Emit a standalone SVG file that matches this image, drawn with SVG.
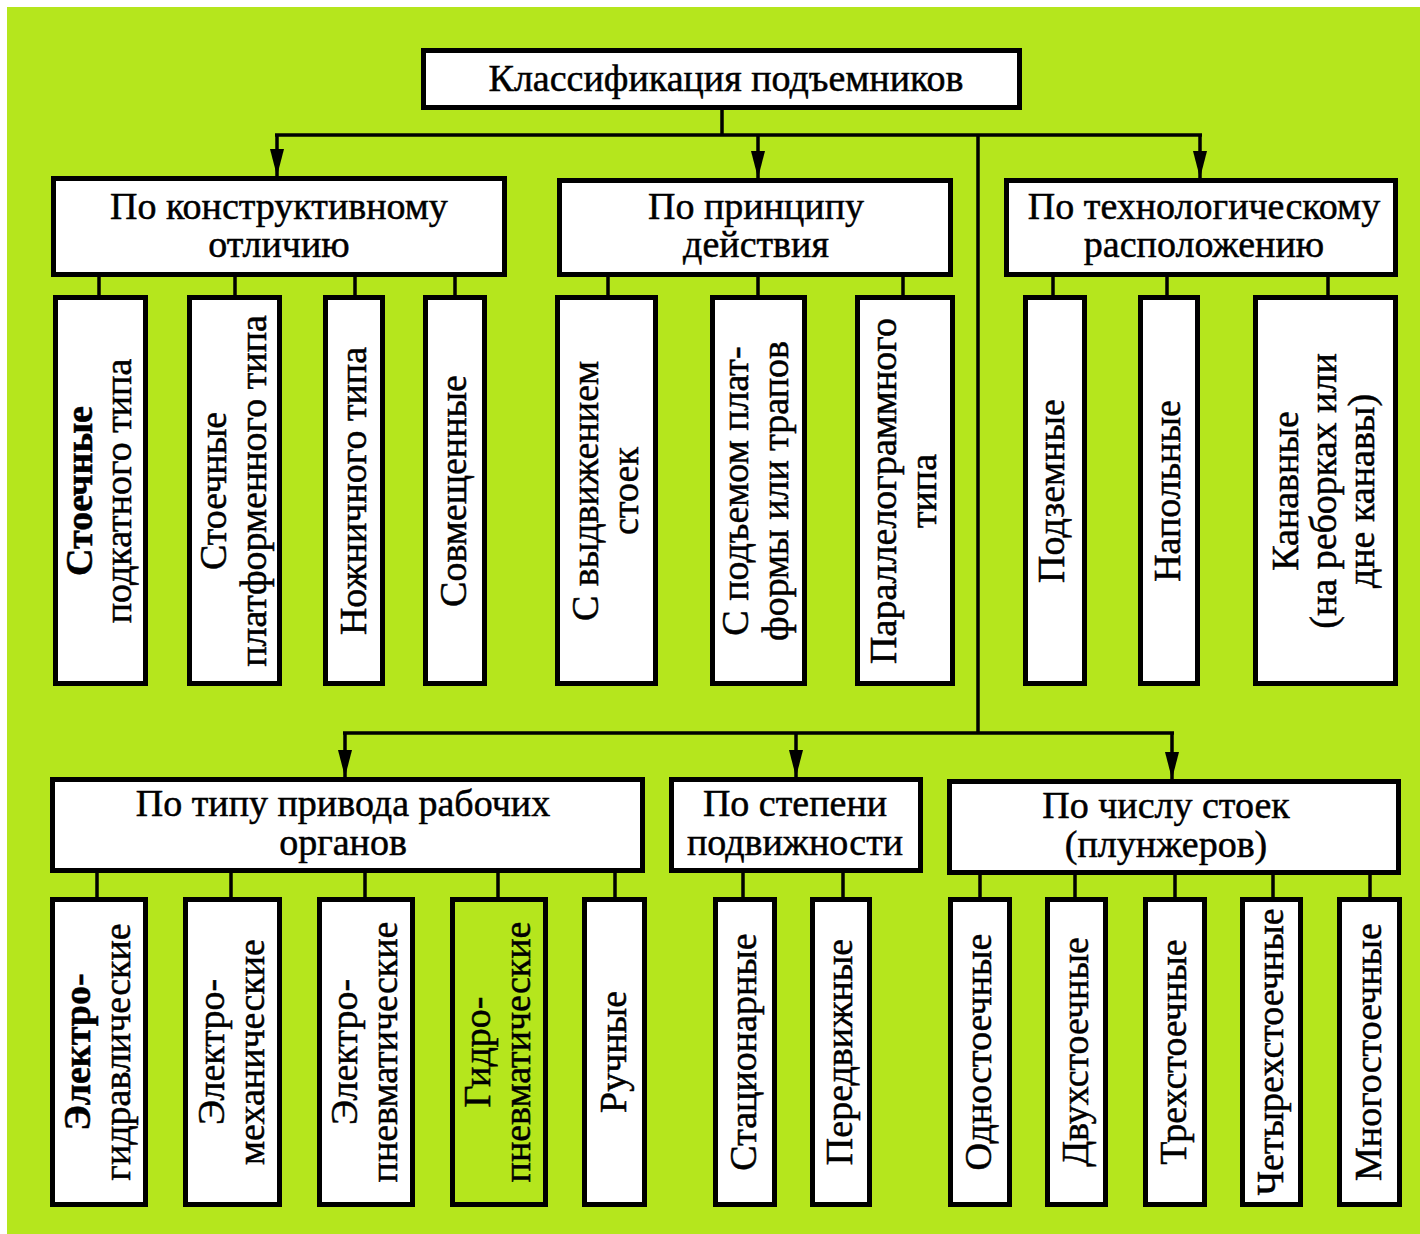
<svg xmlns="http://www.w3.org/2000/svg" width="1420" height="1234" viewBox="0 0 1420 1234">
<style>
.box{fill:#ffffff;stroke:#000;stroke-width:5}
.boxg{fill:none;stroke:#000;stroke-width:5}
.ln{stroke:#000;stroke-width:3.5;fill:none}
.arr{stroke:#000;stroke-width:3.5;fill:none;marker-end:url(#ah)}
text{font-family:"Liberation Serif","Times New Roman",serif;font-size:38px;text-anchor:middle;fill:#000;stroke:#000;stroke-width:0.5}
.b{font-weight:bold}
</style>
<defs>
<marker id="ah" markerUnits="userSpaceOnUse" markerWidth="28" markerHeight="16" refX="27" refY="7" orient="auto">
<path d="M0,0 L27,7 L0,14 z" fill="#000"/>
</marker>
</defs>
<rect x="0" y="0" width="1420" height="1234" fill="#ffffff"/>
<rect x="7" y="7" width="1413" height="1227" fill="#b5e61d"/>

<g id="connectors">
<path class="ln" d="M722,110 V135 M275,135 H1202 M978,135 V733 M343,733 H1174"/>
<path class="arr" d="M277,135 V176"/>
<path class="arr" d="M758,135 V178"/>
<path class="arr" d="M1200,135 V178"/>
<path class="arr" d="M345,733 V777"/>
<path class="arr" d="M796,733 V777"/>
<path class="arr" d="M1172,733 V779"/>
<path class="ln" d="M99,277 V297 M235,277 V297 M355,277 V297 M455,277 V297 M608,277 V297 M758,277 V297 M903,277 V297 M1053,277 V297 M1167,277 V297 M1328,277 V297"/>
<path class="ln" d="M97,873 V899 M231,873 V899 M365,873 V899 M498,873 V899 M615,873 V899 M743,873 V899 M843,873 V899 M980,875 V899 M1075,875 V899 M1175,875 V899 M1273,875 V899 M1370,875 V899"/>
</g>

<g id="root"><rect class="box" x="423.5" y="50.5" width="596" height="57"/><text x="726" y="91">Классификация подъемников</text></g>

<g id="g-konstr"><rect class="box" x="53.5" y="178.5" width="451" height="96"/><text x="279" y="219">По конструктивному</text><text x="279" y="257">отличию</text></g>
<g id="g-princip"><rect class="box" x="559.5" y="180.5" width="391" height="94"/><text x="756" y="219">По принципу</text><text x="756" y="257">действия</text></g>
<g id="g-tehn"><rect class="box" x="1006.5" y="180.5" width="389" height="94"/><text x="1204" y="219">По технологическому</text><text x="1204" y="257">расположению</text></g>

<g id="a1"><rect class="box" x="55.5" y="297.5" width="90" height="386"/><text class="b" transform="translate(92,491) rotate(-90)">Стоечные</text><text transform="translate(131,491) rotate(-90)">подкатного типа</text></g>
<g id="a2"><rect class="box" x="189.5" y="297.5" width="90" height="386"/><text transform="translate(226,491) rotate(-90)">Стоечные</text><text transform="translate(266,491) rotate(-90)">платформенного типа</text></g>
<g id="a3"><rect class="box" x="325.5" y="297.5" width="57" height="386"/><text transform="translate(366,491) rotate(-90)">Ножничного типа</text></g>
<g id="a4"><rect class="box" x="425.5" y="297.5" width="59" height="386"/><text transform="translate(466,491) rotate(-90)">Совмещенные</text></g>

<g id="b1"><rect class="box" x="557.5" y="297.5" width="98" height="386"/><text transform="translate(598,491) rotate(-90)">С выдвижением</text><text transform="translate(638,491) rotate(-90)">стоек</text></g>
<g id="b2"><rect class="box" x="712.5" y="297.5" width="92" height="386"/><text transform="translate(748,491) rotate(-90)">С подъемом плат-</text><text transform="translate(788,491) rotate(-90)">формы или трапов</text></g>
<g id="b3"><rect class="box" x="857.5" y="297.5" width="95" height="386"/><text transform="translate(896,491) rotate(-90)">Параллелограммного</text><text transform="translate(936,491) rotate(-90)">типа</text></g>

<g id="c1"><rect class="box" x="1025.5" y="297.5" width="59" height="386"/><text transform="translate(1064,491) rotate(-90)">Подземные</text></g>
<g id="c2"><rect class="box" x="1140.5" y="297.5" width="57" height="386"/><text transform="translate(1180,491) rotate(-90)">Напольные</text></g>
<g id="c3"><rect class="box" x="1255.5" y="297.5" width="140" height="386"/><text transform="translate(1298,491) rotate(-90)">Канавные</text><text transform="translate(1336,491) rotate(-90)">(на реборках или</text><text transform="translate(1374,491) rotate(-90)">дне канавы)</text></g>

<g id="g-privod"><rect class="box" x="52.5" y="779.5" width="590" height="91"/><text x="343" y="816">По типу привода рабочих</text><text x="343" y="855">органов</text></g>
<g id="g-podv"><rect class="box" x="671.5" y="779.5" width="249" height="91"/><text x="795" y="816">По степени</text><text x="795" y="855">подвижности</text></g>
<g id="g-chislo"><rect class="box" x="949.5" y="781.5" width="449" height="91"/><text x="1166" y="818">По числу стоек</text><text x="1166" y="857">(плунжеров)</text></g>

<g id="d1"><rect class="box" x="52.5" y="899.5" width="93" height="305"/><text class="b" transform="translate(90,1052) rotate(-90)">Электро-</text><text transform="translate(130,1052) rotate(-90)">гидравлические</text></g>
<g id="d2"><rect class="box" x="185.5" y="899.5" width="94" height="305"/><text transform="translate(224,1052) rotate(-90)">Электро-</text><text transform="translate(264,1052) rotate(-90)">механические</text></g>
<g id="d3"><rect class="box" x="319.5" y="899.5" width="93" height="305"/><text transform="translate(357,1052) rotate(-90)">Электро-</text><text transform="translate(397,1052) rotate(-90)">пневматические</text></g>
<g id="d4"><rect class="boxg" x="452.5" y="899.5" width="93" height="305"/><text transform="translate(490,1052) rotate(-90)">Гидро-</text><text transform="translate(530,1052) rotate(-90)">пневматические</text></g>
<g id="d5"><rect class="box" x="584.5" y="899.5" width="60" height="305"/><text transform="translate(626,1052) rotate(-90)">Ручные</text></g>

<g id="e1"><rect class="box" x="715.5" y="899.5" width="59" height="305"/><text transform="translate(756,1052) rotate(-90)">Стационарные</text></g>
<g id="e2"><rect class="box" x="812.5" y="899.5" width="57" height="305"/><text transform="translate(852,1052) rotate(-90)">Передвижные</text></g>

<g id="f1"><rect class="box" x="950.5" y="899.5" width="59" height="305"/><text transform="translate(991,1052) rotate(-90)">Одностоечные</text></g>
<g id="f2"><rect class="box" x="1047.5" y="899.5" width="58" height="305"/><text transform="translate(1088,1052) rotate(-90)">Двухстоечные</text></g>
<g id="f3"><rect class="box" x="1145.5" y="899.5" width="59" height="305"/><text transform="translate(1186,1052) rotate(-90)">Трехстоечные</text></g>
<g id="f4"><rect class="box" x="1242.5" y="899.5" width="58" height="305"/><text transform="translate(1283,1052) rotate(-90)">Четырехстоечные</text></g>
<g id="f5"><rect class="box" x="1339.5" y="899.5" width="60" height="305"/><text transform="translate(1381,1052) rotate(-90)">Многостоечные</text></g>
</svg>
